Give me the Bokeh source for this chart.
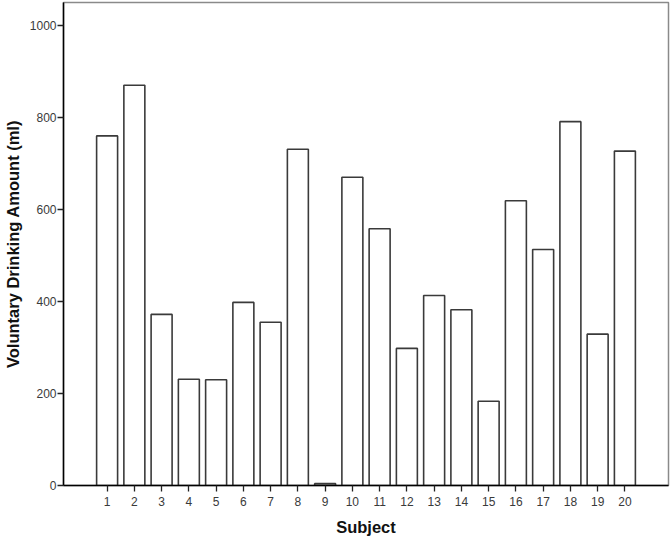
from bokeh.plotting import figure
from bokeh.models import FixedTicker, Range1d
from bokeh.embed import file_html
from bokeh.resources import INLINE

subjects = list(range(1, 21))
drinking_ml = [760, 870, 372, 231, 230, 398, 355, 731, 4, 670,
               558, 298, 413, 382, 183, 619, 513, 791, 329, 727]
y_ticks = [0, 200, 400, 600, 800, 1000]

p = figure(width=670, height=538, output_backend="svg", toolbar_location=None,
           x_range=Range1d(-0.6, 21.6), y_range=Range1d(0, 1050),
           min_border_left=59, min_border_right=2, min_border_top=2, min_border_bottom=51)

p.vbar(x=subjects, top=drinking_ml, width=0.77, bottom=0,
       fill_color="white", line_color="#3a3a3a", line_width=1.6)

p.xgrid.visible = False
p.ygrid.visible = False
p.outline_line_color = "#8a8a8a"
p.outline_line_width = 1.5

p.xaxis.ticker = FixedTicker(ticks=subjects)
p.yaxis.ticker = FixedTicker(ticks=y_ticks)
p.xaxis.minor_tick_line_color = None
p.yaxis.minor_tick_line_color = None
for ax in (p.xaxis, p.yaxis):
    ax.axis_line_color = "black"
    ax.axis_line_width = 1.5
    ax.major_tick_line_color = "#222222"
    ax.major_tick_line_width = 1.3
    ax.major_tick_out = 6
    ax.major_tick_in = 0
    ax.major_label_text_font = "Liberation Sans"
    ax.major_label_text_font_size = "12px"
    ax.major_label_text_color = "#3a3a3a"
    ax.axis_label_text_font = "Liberation Sans"
    ax.axis_label_text_font_style = "bold"
    ax.axis_label_text_color = "#111111"
    ax.axis_label_text_font_size = "16.5px"

p.xaxis.axis_label = "Subject"
p.xaxis.major_label_standoff = 5
p.xaxis.axis_label_standoff = 9
p.yaxis.axis_label = "Voluntary Drinking Amount (ml)"
p.yaxis.major_label_standoff = 1
p.yaxis.axis_label_standoff = 5

open("out.html", "w").write(file_html(p, INLINE))
